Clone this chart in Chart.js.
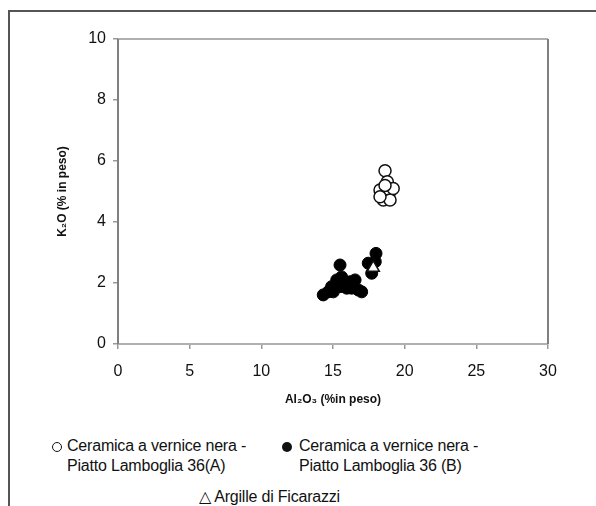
<!DOCTYPE html>
<html>
<head>
<meta charset="utf-8">
<script src="https://cdn.jsdelivr.net/npm/chart.js@4"></script>
<style>
  body { margin: 0; background: #fff; font-family: "Liberation Sans", Arial, sans-serif; }
  #wrap { position: relative; width: 596px; height: 506px; overflow: hidden; }
  #frame { position: absolute; left: 8px; top: 10px; width: 700px; height: 700px;
           border-left: 2px solid #555; border-top: 2px solid #555; }
  #chartBox { position: absolute; left: 0; top: 0; width: 596px; height: 420px; }
  .leg { position: absolute; font-size: 16px; color: #111; line-height: 20px; white-space: nowrap; letter-spacing: -0.2px; }
  .mk { position: absolute; }
</style>
</head>
<body>
<div id="wrap">
  <div id="frame"></div>
  <div id="chartBox"><canvas id="myChart"></canvas></div>
  <span class="mk" style="left:52px;top:442px;width:8px;height:8px;border:1.5px solid #111;border-radius:50%;"></span>
  <div class="leg" style="left:67px;top:436px;">Ceramica a vernice nera -<br>Piatto Lamboglia 36(A)</div>
  <span class="mk" style="left:282px;top:442px;width:10px;height:10px;background:#111;border-radius:50%;"></span>
  <div class="leg" style="left:299px;top:436px;">Ceramica a vernice nera -<br>Piatto Lamboglia 36 (B)</div>
  <div class="leg" style="left:199px;top:487px;">&#9651; Argille di Ficarazzi</div>
</div>
<script>
// Ceramica a vernice nera - Piatto Lamboglia 36 (A), open circles
const al2o3A = [18.63, 18.79, 18.28, 18.98, 18.51, 18.98, 18.28, 19.2, 18.63];
const k2oA   = [5.68, 5.32, 5.05, 4.99, 4.72, 4.72, 4.83, 5.1, 5.2];

// Ceramica a vernice nera - Piatto Lamboglia 36 (B), filled circles
const al2o3B = [18.0, 17.46, 17.7, 15.49, 14.67, 14.32, 15.02, 15.72, 16.19, 16.77, 15.49, 16.54, 15.26, 15.96, 14.9, 15.6, 16.3, 17.0, 17.95];
const k2oB   = [2.97, 2.65, 2.32, 2.59, 1.71, 1.61, 1.71, 1.99, 2.04, 1.77, 1.88, 2.1, 2.1, 1.83, 1.88, 2.2, 1.83, 1.71, 2.7];

// Argille di Ficarazzi, triangle
const al2o3C = [17.81];
const k2oC   = [2.5];

const xTicks = [0, 5, 10, 15, 20, 25, 30];
const yTicks = [0, 2, 4, 6, 8, 10];

function pts(xs, ys) {
    return xs.map((x, i) => ({ x: x, y: ys[i] }));
}

const plotBorder = {
    id: 'plotBorder',
    afterDraw(chart) {
        const { ctx, chartArea: a } = chart;
        ctx.save();
        ctx.lineWidth = 2;
        ctx.strokeStyle = '#b0b0b0';
        ctx.beginPath();
        ctx.moveTo(a.left, a.top); ctx.lineTo(a.right, a.top);
        ctx.moveTo(a.left, a.bottom); ctx.lineTo(a.right, a.bottom);
        ctx.stroke();
        ctx.strokeStyle = '#808080';
        ctx.beginPath();
        ctx.moveTo(a.left, a.top); ctx.lineTo(a.left, a.bottom);
        ctx.moveTo(a.right, a.top); ctx.lineTo(a.right, a.bottom);
        ctx.stroke();
        ctx.restore();
    }
};

const ctx = document.getElementById('myChart').getContext('2d');
const myChart = new Chart(ctx, {
    type: 'scatter',
    data: {
        datasets: [{
            label: 'Argille di Ficarazzi',
            data: pts(al2o3C, k2oC),
            pointStyle: 'triangle',
            pointRadius: 7,
            backgroundColor: '#ffffff',
            borderColor: '#111111',
            borderWidth: 1.5,
            order: 0
        }, {
            label: 'Ceramica a vernice nera - Piatto Lamboglia 36 (B)',
            data: pts(al2o3B, k2oB),
            pointStyle: 'circle',
            pointRadius: 6,
            backgroundColor: '#000000',
            borderColor: '#000000',
            borderWidth: 1,
            order: 1
        }, {
            label: 'Ceramica a vernice nera - Piatto Lamboglia 36(A)',
            data: pts(al2o3A, k2oA),
            pointStyle: 'circle',
            pointRadius: 6,
            backgroundColor: '#ffffff',
            borderColor: '#111111',
            borderWidth: 1.5,
            order: 2
        }]
    },
    options: {
        responsive: true,
        maintainAspectRatio: false,
        animation: false,
        layout: {
            padding: { left: 0, top: 39, right: 48, bottom: 0 }
        },
        scales: {
            x: {
                type: 'linear',
                min: 0,
                max: 30,
                afterBuildTicks: (axis) => { axis.ticks = xTicks.map(v => ({ value: v })); },
                afterFit: (axis) => { axis.height = 76; },
                grid: {
                    drawOnChartArea: false,
                    tickLength: 5,
                    color: '#999999',
                    lineWidth: 1.5
                },
                border: { display: false },
                ticks: {
                    color: '#111111',
                    padding: 13,
                    maxRotation: 0,
                    font: { family: 'Liberation Sans', size: 16 }
                },
                title: {
                    display: true,
                    text: 'Al\u2082O\u2083 (%in peso)',
                    color: '#111111',
                    padding: { top: 0, bottom: 13 },
                    font: { family: 'Liberation Sans', size: 12, weight: 'bold' }
                }
            },
            y: {
                type: 'linear',
                min: 0,
                max: 10,
                afterBuildTicks: (axis) => { axis.ticks = yTicks.map(v => ({ value: v })); },
                afterFit: (axis) => { axis.width = 118; },
                grid: {
                    drawOnChartArea: false,
                    tickLength: 5,
                    color: '#999999',
                    lineWidth: 1.5
                },
                border: { display: false },
                ticks: {
                    color: '#111111',
                    padding: 7,
                    font: { family: 'Liberation Sans', size: 16 }
                },
                title: {
                    display: true,
                    text: 'K\u2082O (% in peso)',
                    color: '#111111',
                    padding: { top: 55, bottom: 0 },
                    font: { family: 'Liberation Sans', size: 12, weight: 'bold' }
                }
            }
        },
        plugins: {
            legend: { display: false },
            tooltip: { enabled: false }
        }
    },
    plugins: [plotBorder]
});
</script>
</body>
</html>
